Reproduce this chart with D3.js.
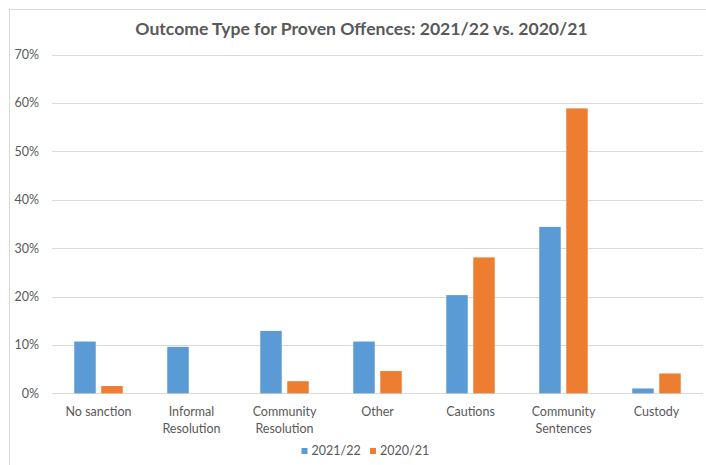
<!DOCTYPE html>
<html><head><meta charset="utf-8">
<script src="https://cdn.jsdelivr.net/npm/d3@7"></script>
<style>body{margin:0;background:#fff}text{font-family:Lato,"Open Sans",sans-serif;fill:#595959}</style>
</head><body><svg id="c" width="706" height="465"></svg>
<script>
const categories = [["No sanction"],["Informal","Resolution"],["Community","Resolution"],["Other"],["Cautions"],["Community","Sentences"],["Custody"]];
const seriesNames = ["2021/22","2020/21"];
const values2122 = [10.7, 9.6, 12.9, 10.7, 20.3, 34.4, 1.0];
const values2021 = [1.5, 0, 2.5, 4.6, 28.1, 58.9, 4.1];
const yTicks = [0,10,20,30,40,50,60,70];
const colors = ["#5B9BD5","#ED7D31"];

const svg = d3.select("#c");
svg.append("rect").attr("x",9.5).attr("y",9.5).attr("width",720).attr("height",480).attr("fill","#fff").attr("stroke","#d9d9d9");

const pL=52, pR=703, pT=54.7, pB=393.3;
const x = d3.scaleBand().domain(d3.range(categories.length)).range([pL,pR]);
const y = d3.scaleLinear().domain([0,70]).range([pB,pT]);
const barW = 21.5, gap = 5.5;

svg.append("g").selectAll("line").data(yTicks).join("line")
  .attr("x1",pL).attr("x2",pR).attr("y1",d=>Math.round(y(d))+0.5).attr("y2",d=>Math.round(y(d))+0.5)
  .attr("stroke","#d9d9d9").attr("stroke-width",1);
svg.append("g").selectAll("text").data(yTicks).join("text")
  .attr("x",39).attr("y",d=>y(d)).attr("dy","0.35em").attr("text-anchor","end").attr("font-size",12.5).text(d=>d+"%");

const series=[values2122, values2021];
series.forEach((vals,si)=>{
  svg.append("g").selectAll("rect").data(vals).join("rect")
    .attr("x",(d,i)=>x(i)+x.bandwidth()/2 + (si===0 ? -gap/2-barW : gap/2))
    .attr("width",barW)
    .attr("y",d=>y(d)).attr("height",d=>pB-y(d))
    .attr("fill",colors[si]).style("display",d=>d>0?null:"none");
});

const lab = svg.append("g").selectAll("text").data(categories).join("text")
  .attr("x",(d,i)=>x(i)+x.bandwidth()/2).attr("y",416).attr("text-anchor","middle").attr("font-size",12.5);
lab.selectAll("tspan").data(d=>d).join("tspan").attr("x",function(){return this.parentNode.getAttribute("x");})
  .attr("dy",(d,i)=>i?17:0).text(d=>d);

svg.append("text").attr("x",361.5).attr("y",35).attr("text-anchor","middle").attr("font-size",17.6).attr("font-weight","bold").text("Outcome Type for Proven Offences: 2021/22 vs. 2020/21");

const lg = svg.append("g");
const legX=[301.5,370];
seriesNames.forEach((n,i)=>{
  lg.append("rect").attr("x",legX[i]).attr("y",448).attr("width",6).attr("height",6).attr("fill",colors[i]);
  lg.append("text").attr("x",legX[i]+10).attr("y",451).attr("dy","0.35em").attr("font-size",12.5).text(n);
});
</script></body></html>
